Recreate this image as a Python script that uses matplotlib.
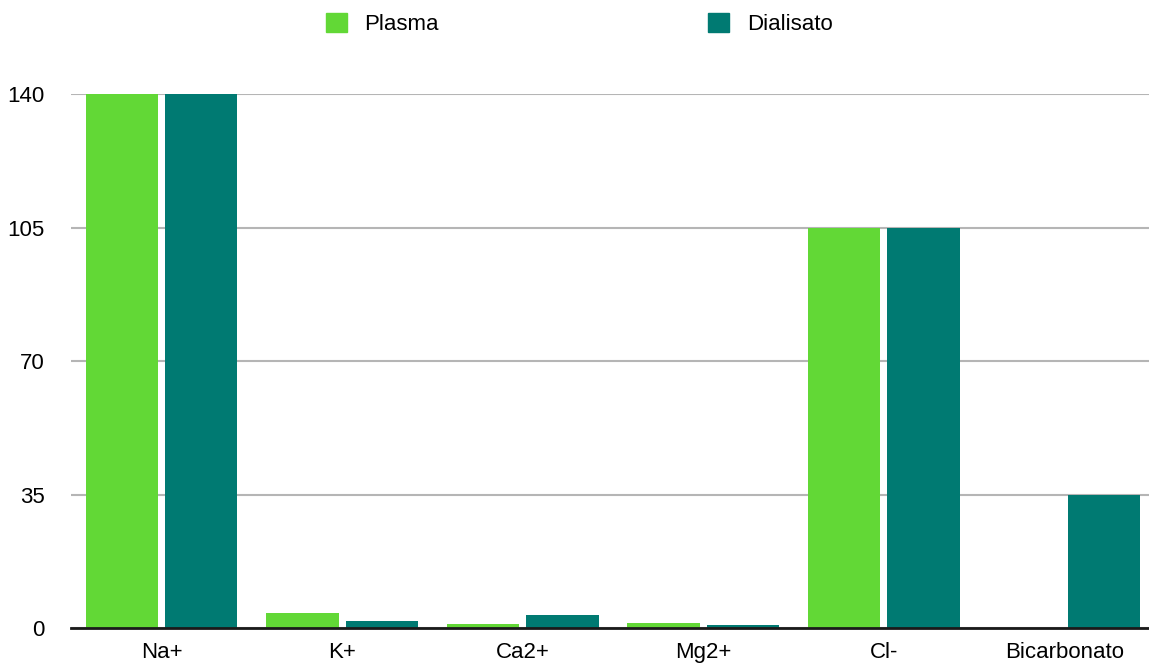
import matplotlib.pyplot as plt
from matplotlib.patches import Patch
import numpy as np

# Ion concentrations (mmol/L)
ions = ['Na+', 'K+', 'Ca2+', 'Mg2+', 'Cl-', 'Bicarbonato']
plasma = [140, 4, 1, 1.4, 105, 0]
dialisato = [140, 1.8, 3.5, 0.9, 105, 35]
yticks = [0, 35, 70, 105, 140]

plt.rcParams['font.family'] = ['Liberation Sans', 'DejaVu Sans']

c_plasma = '#62d836'
c_dial = '#007a72'

fig = plt.figure(figsize=(11.49, 6.64), dpi=100)
ax = fig.add_axes([0.062, 0.054, 0.943, 0.804])

x = np.arange(len(ions))
w = 0.4
ax.bar(x - 0.22, plasma, w, color=c_plasma, zorder=3)
ax.bar(x + 0.22, dialisato, w, color=c_dial, zorder=3)

ax.set_xlim(-0.5, len(ions) - 0.5)
ax.set_ylim(0, 140)
ax.set_yticks(yticks)
ax.set_xticks(x)
ax.set_xticklabels(ions)
ax.tick_params(axis='both', length=0, labelsize=16, colors='black')
ax.tick_params(axis='y', pad=19)
ax.tick_params(axis='x', pad=10)

ax.yaxis.grid(True, color='#b5b5b5', linewidth=1.5, zorder=1)
for s in ['top', 'right', 'left']:
    ax.spines[s].set_visible(False)
ax.spines['bottom'].set_color('#1a1a1a')
ax.spines['bottom'].set_linewidth(2)
ax.spines['bottom'].set_zorder(4)

handles = [Patch(color=c_plasma, label='Plasma'), Patch(color=c_dial, label='Dialisato')]
fig.legend(handles=handles, loc='center', bbox_to_anchor=(0.504, 0.964), ncol=2,
           frameon=False, fontsize=16, handlelength=0.95, handleheight=0.95,
           handletextpad=0.8, columnspacing=12.1)

fig.savefig('out.png', dpi=100)
